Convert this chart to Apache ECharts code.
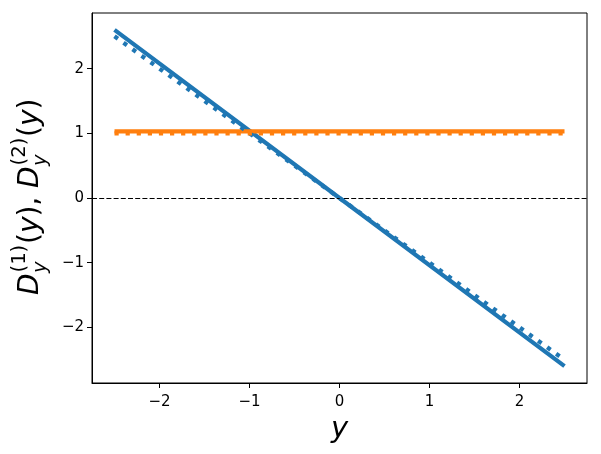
<!DOCTYPE html>
<html>
<head>
<meta charset="utf-8">
<script src="https://cdn.jsdelivr.net/npm/echarts@6/dist/echarts.min.js"></script>
<style>html,body{margin:0;padding:0;background:#fff}#c{width:601px;height:454px}</style>
</head>
<body>
<div id="c"></div>
<script>
// Data
const xValues = [-2.5, 0, 2.5];
const d1Solid = [2.6, 0, -2.6];
const d1Dotted = [2.5, 0, -2.5];
const d2Solid = [1.03, 1.03, 1.03];
const d2Dotted = [1.0, 1.0, 1.0];
const xTicks = [-2, -1, 0, 1, 2];
const yTicks = [-2, -1, 0, 1, 2];
const zeroLine = 0;

const BLUE = '#1f77b4', ORANGE = '#ff7f0e';
const FONT = '"DejaVu Sans", sans-serif';
const fmt = v => String(v).replace('-', '\u2212');
const pairs = (xs, ys) => xs.map((x, i) => [x, ys[i]]);

function lineSeries(name, data, color, dotted, z) {
  return {
    name, type: 'line', data, showSymbol: false, symbol: 'none', z,
    animation: false, silent: true,
    lineStyle: { color, width: 4.2, type: dotted ? [4.2, 6.9] : 'solid', cap: 'butt' }
  };
}

// y-axis label built from real text pieces (rotated group)
const S = 28, s = 19.6;
function t(text, x, y, size, italic) {
  return { type: 'text', x, y, style: {
    text, fill: '#000', font: (italic ? 'italic ' : '') + size + 'px ' + FONT,
    align: 'left', textAlign: 'left', verticalAlign: 'middle', textVerticalAlign: 'middle'
  }};
}
function dTerm(x0, n) {
  const my = -9, supY = -20, subY = 1;
  return [
    t('D', x0, my, S, true),
    t('(' + n + ')', x0 + 22.5, supY, s, false),
    t('y', x0 + 22, subY, s, true),
    t('(', x0 + 51, my, S, false),
    t('y', x0 + 61.9, my, S, true),
    t(')', x0 + 78.4, my, S, false)
  ];
}
const labelChildren = [].concat(dTerm(0, 1), [t(',', 89.3, -9, S, false)], dTerm(107.1, 2));

const chart = echarts.init(document.getElementById('c'), null, { renderer: 'canvas' });
chart.setOption({
  animation: false,
  backgroundColor: '#fff',
  grid: { left: 92, top: 13, right: 14, bottom: 71, show: true, borderColor: '#000', borderWidth: 1, backgroundColor: 'transparent' },
  xAxis: {
    type: 'value', min: -2.75, max: 2.75,
    splitLine: { show: false },
    axisLine: { show: true, onZero: false, lineStyle: { color: '#000', width: 1 } },
    axisTick: { show: true, length: 5, inside: false, customValues: xTicks, lineStyle: { color: '#000' } },
    axisLabel: { customValues: xTicks, formatter: fmt, color: '#000', fontSize: 15, fontFamily: FONT, margin: 12 },
    name: 'y', nameLocation: 'middle', nameGap: 32,
    nameTextStyle: { fontSize: 29, fontStyle: 'italic', fontFamily: FONT, color: '#000' }
  },
  yAxis: {
    type: 'value', min: -2.86, max: 2.86,
    splitLine: { show: false },
    axisLine: { show: true, onZero: false, lineStyle: { color: '#000', width: 1 } },
    axisTick: { show: true, length: 5, inside: false, customValues: yTicks, lineStyle: { color: '#000' } },
    axisLabel: { customValues: yTicks, formatter: fmt, color: '#000', fontSize: 15, fontFamily: FONT, margin: 8 }
  },
  graphic: [{
    type: 'group', x: 40, y: 295, rotation: Math.PI / 2, children: labelChildren
  }],
  series: [
    Object.assign(lineSeries('D1 solid', pairs(xValues, d1Solid), BLUE, false, 3), {
      markLine: {
        silent: true, symbol: 'none', animation: false,
        label: { show: false },
        lineStyle: { color: '#000', width: 1, type: [5, 2.2] },
        data: [{ yAxis: zeroLine }]
      }
    }),
    lineSeries('D2 solid', pairs(xValues, d2Solid), ORANGE, false, 4),
    lineSeries('D1 dotted', pairs(xValues, d1Dotted), BLUE, true, 5),
    lineSeries('D2 dotted', pairs(xValues, d2Dotted), ORANGE, true, 6)
  ]
});
</script>
</body>
</html>
